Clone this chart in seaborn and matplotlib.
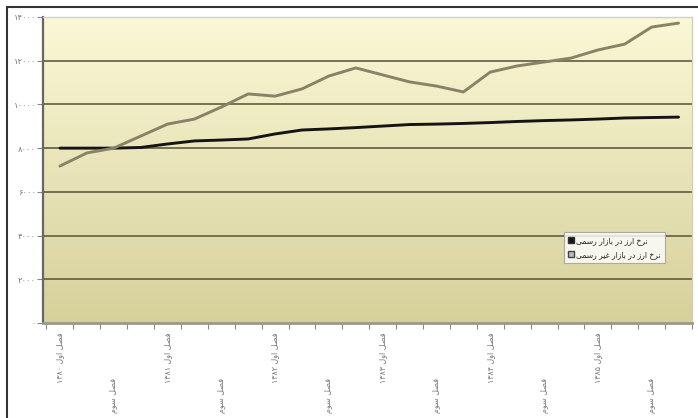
import numpy as np
import pandas as pd
import seaborn as sns
import matplotlib
matplotlib.use("Agg")
import matplotlib.pyplot as plt
from matplotlib.lines import Line2D

# Quarterly exchange rates (rial), 1380-1385
years = ["۱۳۸۰", "۱۳۸۱", "۱۳۸۲", "۱۳۸۳", "۱۳۸۴", "۱۳۸۵"]
quarters = ["فصل اول", "فصل دوم", "فصل سوم", "فصل چهارم"]
official_rate = [8000, 8000, 8000, 8030, 8190, 8330, 8370, 8420,
                 8650, 8830, 8880, 8940, 9010, 9080, 9100, 9130,
                 9170, 9220, 9260, 9290, 9330, 9380, 9400, 9420]
free_rate = [7180, 7780, 8000, 8550, 9100, 9330, 9880, 10480,
             10380, 10710, 11300, 11670, 11350, 11030, 10840, 10570,
             11480, 11760, 11940, 12120, 12490, 12760, 13540, 13720]
series_names = ["نرخ ارز در بازار رسمی", "نرخ ارز در بازار غیر رسمی"]
y_ticks = [0, 2000, 4000, 6000, 8000, 10000, 12000, 14000]

# --- minimal Persian shaping (matplotlib has no bidi/joining support) ---
FORMS = {  # isolated, final, initial, medial
    "ا": ("\uFE8D", "\uFE8E", None, None),
    "ب": ("\uFE8F", "\uFE90", "\uFE91", "\uFE92"),
    "چ": ("\uFB7A", "\uFB7B", "\uFB7C", "\uFB7D"),
    "ه": ("\uFEE9", "\uFEEA", "\uFEEB", "\uFEEC"),
    "خ": ("\uFEA5", "\uFEA6", "\uFEA7", "\uFEA8"),
    "د": ("\uFEA9", "\uFEAA", None, None),
    "ر": ("\uFEAD", "\uFEAE", None, None),
    "ز": ("\uFEAF", "\uFEB0", None, None),
    "س": ("\uFEB1", "\uFEB2", "\uFEB3", "\uFEB4"),
    "ص": ("\uFEB9", "\uFEBA", "\uFEBB", "\uFEBC"),
    "غ": ("\uFECD", "\uFECE", "\uFECF", "\uFED0"),
    "ف": ("\uFED1", "\uFED2", "\uFED3", "\uFED4"),
    "ل": ("\uFEDD", "\uFEDE", "\uFEDF", "\uFEE0"),
    "م": ("\uFEE1", "\uFEE2", "\uFEE3", "\uFEE4"),
    "ن": ("\uFEE5", "\uFEE6", "\uFEE7", "\uFEE8"),
    "و": ("\uFEED", "\uFEEE", None, None),
    "ی": ("\uFEEF", "\uFEF0", "\uFEF3", "\uFEF4"),
}


def shape_word(word):
    out = []
    for j, c in enumerate(word):
        f = FORMS.get(c)
        if f is None:
            out.append(c)
            continue
        prev = word[j - 1] if j > 0 else None
        nxt = word[j + 1] if j + 1 < len(word) else None
        jp = prev in FORMS and FORMS[prev][2] is not None
        jn = nxt in FORMS and f[2] is not None
        if jp and jn:
            out.append(f[3])
        elif jp:
            out.append(f[1])
        elif jn:
            out.append(f[2])
        else:
            out.append(f[0])
    return "".join(out)


def rtl(text):
    toks = []
    for t in text.split(" "):
        if all(ch in "۰۱۲۳۴۵۶۷۸۹" for ch in t):
            toks.append(t)
        else:
            toks.append(shape_word(t)[::-1])
    return " ".join(reversed(toks))


def fa_digits(n):
    return str(n).translate(str.maketrans("0123456789", "۰۱۲۳۴۵۶۷۸۹"))


categories = [f"{q} {y}" if qi == 0 else q
              for y in years for qi, q in enumerate(quarters)]
idx = np.arange(len(categories))
df = pd.DataFrame({
    "idx": np.concatenate([idx, idx]),
    "value": official_rate + free_rate,
    "series": [series_names[0]] * len(idx) + [series_names[1]] * len(idx),
})

sns.set_theme(style="white")
plt.rcParams["font.family"] = ["DejaVu Sans"]

W, H = 698, 418
fig = plt.figure(figsize=(W / 100, H / 100), dpi=100)
fig.patch.set_facecolor("white")
ax = fig.add_axes([43 / W, (H - 323) / H, 649 / W, 306 / H])

# plot-area gradient: pale cream at top to khaki at bottom
top = np.array([251, 248, 214]) / 255
bot = np.array([214, 208, 154]) / 255
grad = np.linspace(0, 1, 256)[:, None]
img = top[None, None, :] * (1 - grad[..., None]) + bot[None, None, :] * grad[..., None]
ax.imshow(img, extent=[0, 1, 0, 1], transform=ax.transAxes, aspect="auto", zorder=0)

palette = {series_names[0]: "#141414", series_names[1]: "#898268"}
sns.lineplot(data=df, x="idx", y="value", hue="series", palette=palette,
             linewidth=2.1, legend=False, ax=ax, zorder=3)

ax.set_xlim(-0.63, 23.45)
ax.set_ylim(0, 14000)

# horizontal gridlines
for v in y_ticks[1:-1]:
    ax.axhline(v, color="#6a664a", lw=1.3, zorder=1)

ax.set_yticks(y_ticks)
ax.set_yticklabels([fa_digits(v) for v in y_ticks], fontsize=6, color="#777777")
ax.tick_params(axis="y", length=4, width=0.8, color="#888888", pad=1, left=True)

# category ticks between points, labels on every other category
ax.set_xticks(np.arange(-0.5, len(categories), 1.0))
ax.set_xticklabels([])
ax.tick_params(axis="x", length=4, width=0.8, color="#888888", bottom=True)
xt = ax.get_xaxis_transform()
for i, lab in enumerate(categories):
    if i % 2:
        continue
    long_lab = (i % 4 == 0)
    ax.text(i, -0.03 if long_lab else -0.18, rtl(lab), transform=xt,
            rotation=90, fontsize=5.8, color="#777777",
            ha="center", va="top")

for s in ["top", "right"]:
    ax.spines[s].set_color("#cfcfc4")
    ax.spines[s].set_linewidth(1.0)
ax.spines["left"].set_color("#666666")
ax.spines["left"].set_linewidth(1.6)
ax.spines["bottom"].set_color("#9a9a8a")
ax.spines["bottom"].set_linewidth(2.0)
ax.set_xlabel("")
ax.set_ylabel("")

handles = [Line2D([], [], linestyle="none", marker="s", markersize=5,
                  markerfacecolor="#141414", markeredgecolor="#333333"),
           Line2D([], [], linestyle="none", marker="s", markersize=5,
                  markerfacecolor="#bdbdb5", markeredgecolor="#444444")]
leg = ax.legend(handles, [rtl(s) for s in series_names], loc="upper left",
                bbox_to_anchor=(0.797, 0.31), fontsize=5.5, frameon=True,
                fancybox=False, handletextpad=0.3, borderpad=0.5,
                labelspacing=0.7, handlelength=0.8)
leg.get_frame().set_edgecolor("#9a9a9a")
leg.get_frame().set_facecolor("white")
leg.get_frame().set_linewidth(0.8)

# outer frame of the figure
fig.add_artist(Line2D([7 / W, 7 / W], [0, 1 - 7 / H], color="#333333", lw=1.5,
                      transform=fig.transFigure))
fig.add_artist(Line2D([7 / W, 1], [1 - 7 / H, 1 - 7 / H], color="#333333", lw=1.5,
                      transform=fig.transFigure))

fig.savefig("out.png", dpi=100)
